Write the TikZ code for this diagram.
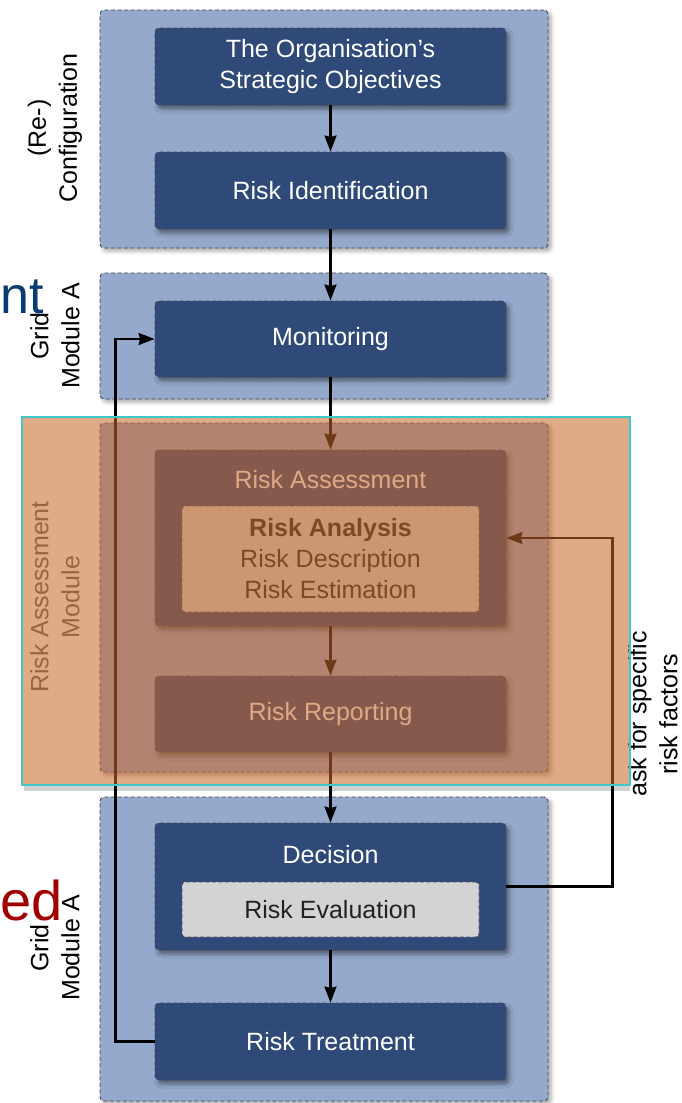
\documentclass[tikz,border=0pt]{standalone}
\usepackage{fontspec}
\setmainfont{Liberation Sans}
\usetikzlibrary{arrows.meta,shadows.blur}

\definecolor{panelblue}{RGB}{148,169,204}
\definecolor{boxblue}{RGB}{47,74,121}
\definecolor{evalgray}{RGB}{211,211,211}
\definecolor{dashgray}{RGB}{70,72,82}
\definecolor{overlayorange}{RGB}{201,103,41}
\definecolor{framecyan}{RGB}{64,200,200}
\definecolor{navytext}{RGB}{10,60,115}
\definecolor{redtext}{RGB}{160,0,0}
\definecolor{darktext}{RGB}{34,34,34}

\begin{document}
\begin{tikzpicture}[x=1pt,y=-1pt,
  font=\fontsize{25}{31}\selectfont,
  panel/.style={draw=dashgray, line width=0.9pt, dash pattern=on 4pt off 2.5pt,
    fill=panelblue, rounded corners=4pt, inner sep=0pt,
    blur shadow={shadow xshift=3pt, shadow yshift=-3pt, shadow blur radius=4pt, shadow opacity=35}},
  stepbox/.style={draw=dashgray, line width=0.9pt, dash pattern=on 4pt off 2.5pt,
    fill=boxblue, rounded corners=4pt, inner sep=0pt, text=white, align=center,
    minimum width=351pt,
    blur shadow={shadow xshift=3pt, shadow yshift=-4pt, shadow blur radius=4pt, shadow opacity=45}},
  subbox/.style={draw=dashgray, line width=0.9pt, dash pattern=on 4pt off 2.5pt,
    fill=evalgray, rounded corners=3pt, inner sep=0pt, text=darktext, align=center,
    minimum width=297pt},
  sidelabel/.style={rotate=90, align=center, text=black},
  conn/.style={line width=2.2pt, -{Stealth[length=16pt,width=12pt,inset=1.5pt]}}
]
\useasboundingbox (0,0) rectangle (681,1103);

% shadow strip beneath the highlighted module
\fill[black!18] (24,785) rectangle (630,791);

% module panels
\node[panel, minimum width=448pt, minimum height=238pt] (cfgpanel) at (324,129) {};
\node[panel, minimum width=448pt, minimum height=126pt] (monpanel) at (324,336) {};
\node[panel, minimum width=448pt, minimum height=349pt] (rapanel) at (324,597.5) {};
\node[panel, minimum width=448pt, minimum height=304pt] (decpanel) at (324,949) {};

% process steps
\node[stepbox, minimum height=77pt] (obj) at (330.5,66.5) {The Organisation's\\Strategic Objectives};
\node[stepbox, minimum height=77pt] (ident) at (330.5,190.5) {Risk Identification};
\node[stepbox, minimum height=76pt] (mon) at (330.5,339) {Monitoring};
\node[stepbox, minimum height=176pt] (ra) at (330.5,538) {};
\node[text=white] (ratitle) at (330.5,480) {Risk Assessment};
\node[subbox, minimum height=106pt] (analysis) at (330.5,559)
  {\textbf{Risk Analysis}\\Risk Description\\Risk Estimation};
\node[stepbox, minimum height=76pt] (rep) at (330.5,714) {Risk Reporting};
\node[stepbox, minimum height=127pt] (dec) at (330.5,886.5) {};
\node[text=white] (dectitle) at (330.5,855) {Decision};
\node[subbox, minimum height=55pt] (eval) at (330.5,909.5) {Risk Evaluation};
\node[stepbox, minimum height=77pt] (treat) at (330.5,1041.5) {Risk Treatment};

% module labels
\node[sidelabel] (cfglabel) at (55,128) {(Re-)\\Configuration};
\node[sidelabel] (monlabel) at (55,336) {Grid\\Module A};
\node[sidelabel, text=black!62] (ralabel) at (55,597) {Risk Assessment\\Module};
\node[sidelabel] (declabel) at (55,948) {Grid\\Module A};
\node[sidelabel] (asklabel) at (653,714) {ask for specific\\risk factors};

% flow
\draw[conn] (obj) -- (ident);
\draw[conn] (ident) -- (mon);
\draw[conn] (mon) -- (ra);
\draw[conn] (ra) -- (rep);
\draw[conn] (rep) -- (dec);
\draw[conn] (dec) -- (treat);
\draw[conn] (treat.west) -- ++(-39,0) |- (mon.west);
\draw[conn] (dec.east) -- ++(106,0) |- (ra.east);

% highlighted module
\fill[overlayorange, fill opacity=0.56] (22,417) rectangle (630,785);
\draw[framecyan, line width=1.8pt] (22,417) rectangle (630,785);

% text fragments at the left edge
\node[anchor=base west, inner sep=0pt, text=navytext, font=\fontsize{52}{56}\selectfont] (frag1) at (0.5,313) {nt};
\node[anchor=base west, inner sep=0pt, text=redtext, font=\fontsize{56}{60}\selectfont] (frag2) at (0.5,920) {ed};
\end{tikzpicture}
\end{document}
